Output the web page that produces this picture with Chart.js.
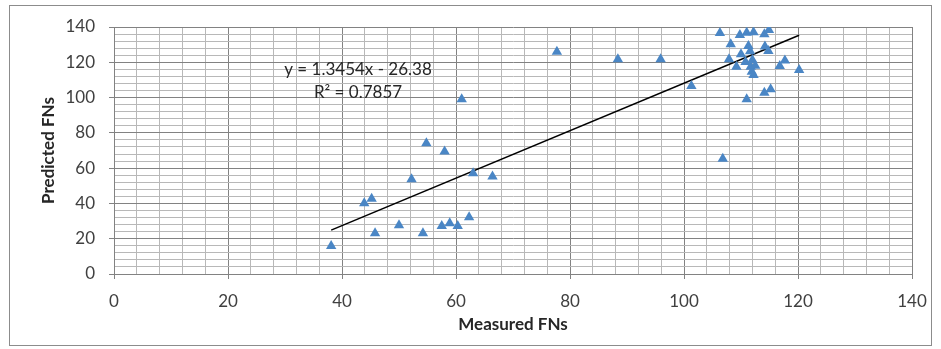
<!DOCTYPE html>
<html>
<head>
<meta charset="utf-8">
<script src="https://cdn.jsdelivr.net/npm/chart.js@4/dist/chart.umd.min.js"></script>
<style>
  html, body { margin: 0; padding: 0; background: #fff; }
  #wrap { width: 941px; height: 349px; position: relative; }
</style>
</head>
<body>
<div id="wrap"><canvas id="FNChart" width="941" height="349"></canvas></div>
<script>
// measured vs predicted FNs
var measured = [38.1, 43.9, 45.2, 45.8, 50.0, 52.2, 54.2, 54.8, 57.5, 58.0,
                58.9, 60.3, 61.0, 62.3, 63.0, 66.4, 77.7, 88.4, 95.9, 101.3,
                106.3, 106.8, 107.9, 108.2, 109.2, 109.8, 110.0, 110.8, 111.0, 111.0,
                111.3, 111.6, 111.7, 111.9, 112.0, 112.2, 112.2, 112.5, 114.1, 114.1,
                114.2, 114.8, 114.9, 115.2, 116.8, 117.7, 120.2];
var predicted = [15.9, 40.1, 42.7, 23.1, 27.6, 53.7, 23.1, 74.1, 27.2, 69.5,
                 28.7, 27.2, 99.0, 32.1, 57.1, 55.2, 126.0, 121.7, 121.7, 106.6,
                 136.6, 65.3, 121.7, 130.2, 117.5, 135.5, 124.5, 120.2, 99.0, 136.8,
                 129.2, 126.2, 117.5, 114.7, 121.3, 137.0, 112.8, 118.0, 102.8, 135.9,
                 128.9, 126.4, 138.3, 104.7, 117.9, 121.0, 115.6];
var trendFit = [1.3454, -26.38];   // slope, intercept
var trendLabels = ['y = 1.3454x - 26.38', 'R\u00b2 = 0.7857'];
var majorTicks = [0, 20, 40, 60, 80, 100, 120, 140];

var points = measured.map(function (m, i) { return { x: m, y: predicted[i] }; });
var xMin = Math.min.apply(null, measured);
var xMax = Math.max.apply(null, measured);
var trend = [xMin, xMax].map(function (x) { return { x: x, y: trendFit[0] * x + trendFit[1] }; });

var FONT = 'Lato, "Open Sans", sans-serif';
var MAJOR = '#828282';
var MINOR = '#b8b8b8';

function gridColor(c) { return majorTicks.indexOf(c.tick.value) >= 0 ? MAJOR : MINOR; }
function tickColor(c) { return majorTicks.indexOf(c.tick.value) >= 0 ? MAJOR : 'rgba(0,0,0,0)'; }
function tickLabel(v) { return majorTicks.indexOf(v) >= 0 ? v : ''; }

var frame = {
  id: 'frame',
  beforeDraw: function (chart) {
    var c = chart.ctx;
    c.save();
    c.fillStyle = '#fff';
    c.fillRect(0, 0, chart.width, chart.height);
    c.strokeStyle = '#8c8c8c';
    c.lineWidth = 1;
    c.strokeRect(9.5, 5.5, 922, 340);
    c.restore();
  },
  afterDatasetsDraw: function (chart) {
    var c = chart.ctx;
    c.save();
    c.fillStyle = '#262626';
    c.font = '17px ' + FONT;
    c.textAlign = 'center';
    c.textBaseline = 'middle';
    c.fillText(trendLabels[0], 358, 70);
    c.fillText(trendLabels[1], 358, 93);
    c.restore();
  }
};

var ctx = document.getElementById('FNChart').getContext('2d');
var chart = new Chart(ctx, {
  type: 'scatter',
  data: {
    datasets: [{
      label: 'FNs',
      data: points,
      pointStyle: 'triangle',
      pointRadius: 6,
      pointBackgroundColor: '#4a86c5',
      pointBorderColor: '#4a86c5',
      pointBorderWidth: 0
    }, {
      label: 'Trend',
      type: 'line',
      data: trend,
      borderColor: '#000',
      borderWidth: 1.5,
      pointRadius: 0,
      fill: false
    }]
  },
  options: {
    responsive: false,
    animation: false,
    layout: { padding: { left: 0, top: 27, right: 29, bottom: 0 } },
    plugins: { legend: { display: false }, tooltip: { enabled: false } },
    scales: {
      x: {
        type: 'linear',
        min: 0, max: 140,
        afterFit: function (s) { s.height = 75; },
        grid: { color: gridColor, tickColor: tickColor, tickLength: 5, lineWidth: 1 },
        border: { color: MAJOR },
        ticks: {
          stepSize: 4, autoSkip: false, maxTicksLimit: 100, maxRotation: 0,
          padding: 12, color: '#404040', font: { family: FONT, size: 17 },
          callback: tickLabel
        },
        title: {
          display: true, text: 'Measured FNs', color: '#262626',
          font: { family: FONT, size: 17, weight: 'bold' },
          padding: { top: 0, bottom: 14 }
        }
      },
      y: {
        type: 'linear',
        min: 0, max: 140,
        afterFit: function (s) { s.width = 114; },
        grid: { color: gridColor, tickColor: tickColor, tickLength: 5, lineWidth: 1 },
        border: { color: MAJOR },
        ticks: {
          stepSize: 4, autoSkip: false, maxTicksLimit: 100,
          padding: 14, color: '#404040', font: { family: FONT, size: 17 },
          callback: tickLabel
        },
        title: {
          display: true, text: 'Predicted FNs', color: '#262626',
          font: { family: FONT, size: 17, weight: 'bold' },
          padding: { top: 38, bottom: 0 }
        }
      }
    }
  },
  plugins: [frame]
});
</script>
</body>
</html>
